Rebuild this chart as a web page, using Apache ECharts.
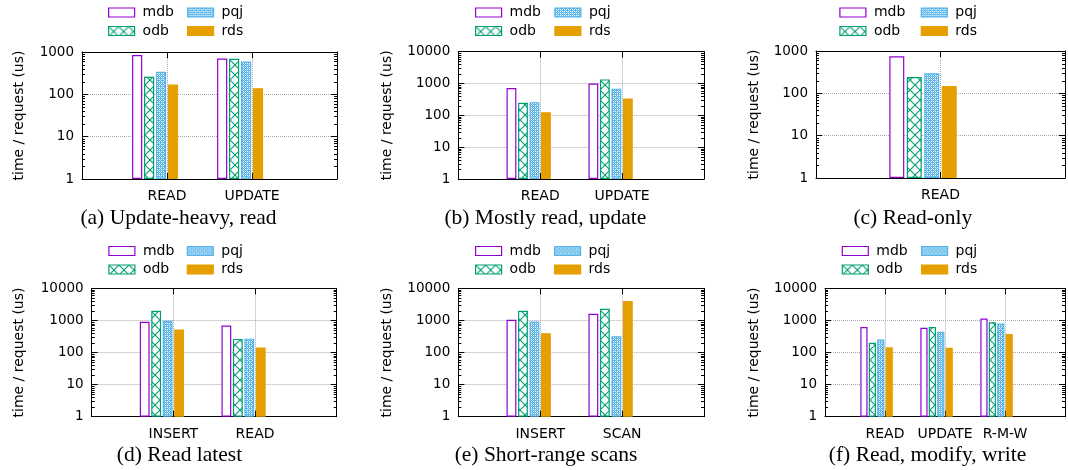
<!DOCTYPE html>
<html><head><meta charset="utf-8">
<script src="https://cdn.jsdelivr.net/npm/echarts@6/dist/echarts.min.js"></script>
<style>html,body{margin:0;padding:0;background:#fff}#c{width:1068px;height:470px}</style>
</head><body><div id="c"></div>
<script>
// ---------- data ----------
const seriesNames = ['mdb', 'odb', 'pqj', 'rds'];

// (a) Update-heavy, read
const catsA = ['READ', 'UPDATE'];
const mdbA = [850, 700];
const odbA = [260, 690];
const pqjA = [340, 600];
const rdsA = [170, 140];
// (b) Mostly read, update
const catsB = ['READ', 'UPDATE'];
const mdbB = [720, 1000];
const odbB = [250, 1350];
const pqjB = [260, 690];
const rdsB = [125, 340];
// (c) Read-only
const catsC = ['READ'];
const mdbC = [750];
const odbC = [242];
const pqjC = [300];
const rdsC = [150];
// (d) Read latest
const catsD = ['INSERT', 'READ'];
const mdbD = [900, 690];
const odbD = [2000, 265];
const pqjD = [980, 270];
const rdsD = [520, 143];
// (e) Short-range scans
const catsE = ['INSERT', 'SCAN'];
const mdbE = [1050, 1600];
const odbE = [2000, 2300];
const pqjE = [920, 320];
const rdsE = [400, 4000];
// (f) Read, modify, write
const catsF = ['READ', 'UPDATE', 'R-M-W'];
const mdbF = [620, 590, 1150];
const odbF = [200, 620, 870];
const pqjF = [255, 440, 800];
const rdsF = [145, 140, 380];

const captions = ['(a) Update-heavy, read', '(b) Mostly read, update', '(c) Read-only',
                  '(d) Read latest', '(e) Short-range scans', '(f) Read, modify, write'];
const yTitle = 'time / request (us)';

// ---------- styles / layout ----------
const SANS = 'DejaVu Sans';
const SERIF = 'Liberation Serif';
const colors = { mdb: '#9400d3', odb: '#009e73', pqj: '#56b4e9', rds: '#e69f00' };

function hatchCanvas() {
  const c = document.createElement('canvas'); c.width = 10; c.height = 10;
  const g = c.getContext('2d');
  g.fillStyle = '#fff'; g.fillRect(0, 0, 10, 10);
  g.strokeStyle = colors.odb; g.lineWidth = 1.1;
  g.beginPath();
  g.moveTo(-1, -1); g.lineTo(11, 11);
  g.moveTo(11, -1); g.lineTo(-1, 11);
  g.stroke();
  return c;
}
function dotCanvas() {
  const c = document.createElement('canvas'); c.width = 4; c.height = 4;
  const g = c.getContext('2d');
  g.fillStyle = colors.pqj; g.fillRect(0, 0, 4, 4);
  g.fillStyle = '#ffffff';
  g.fillRect(1, 1, 1, 1); g.fillRect(3, 3, 1, 1);
  g.fillRect(1, 3, 1, 1); g.fillRect(3, 1, 1, 1);
  g.globalAlpha = 0.5;
  g.fillRect(0, 0, 1, 1); g.fillRect(2, 2, 1, 1);
  return c;
}
const fills = {
  mdb: '#ffffff',
  odb: { image: hatchCanvas(), repeat: 'repeat' },
  pqj: { image: dotCanvas(), repeat: 'repeat' },
  rds: colors.rds
};

const panels = [
  { cats: catsA, vals: { mdb: mdbA, odb: odbA, pqj: pqjA, rds: rdsA }, yMax: 1000,
    box: [82, 52, 255, 127], nameGap: 56, cap: [178.5, 218], leg: [108, 187, 5.5] },
  { cats: catsB, vals: { mdb: mdbB, odb: odbB, pqj: pqjB, rds: rdsB }, yMax: 10000,
    box: [458.3, 51.7, 245.7, 127.3], nameGap: 64, cap: [545.3, 218], leg: [475, 554.3, 5.5] },
  { cats: catsC, vals: { mdb: mdbC, odb: odbC, pqj: pqjC, rds: rdsC }, yMax: 1000,
    box: [816, 51, 250, 127], nameGap: 55, cap: [912.8, 218], leg: [839.3, 920.7, 5.5] },
  { cats: catsD, vals: { mdb: mdbD, odb: odbD, pqj: pqjD, rds: rdsD }, yMax: 10000,
    box: [91.7, 288.3, 245, 128.4], nameGap: 65, cap: [179.5, 455], leg: [108.3, 186.7, 244] },
  { cats: catsE, vals: { mdb: mdbE, odb: odbE, pqj: pqjE, rds: rdsE }, yMax: 10000,
    box: [458.3, 288.3, 245.7, 128.4], nameGap: 64, cap: [546, 455], leg: [475, 554, 244] },
  { cats: catsF, vals: { mdb: mdbF, odb: odbF, pqj: pqjF, rds: rdsF }, yMax: 10000,
    box: [825, 288.3, 242.5, 128.4], nameGap: 64, cap: [927.5, 455], leg: [841.7, 921, 244] }
];

const grid = [], xAxis = [], yAxis = [], series = [], legend = [], graphic = [];
const gridLine = { type: 'dotted', color: '#a8a8a8', width: 1 };
const blackLine = { color: '#000', width: 1 };

panels.forEach((p, i) => {
  const [l, t, w, h] = p.box;
  grid.push({ left: l, top: t, width: w, height: h, containLabel: false });
  const catData = [''].concat(p.cats, ['']);
  xAxis.push({
    type: 'category', gridIndex: i, position: 'bottom', data: catData, boundaryGap: false,
    axisLine: { show: true, onZero: false, lineStyle: blackLine },
    axisTick: { show: true, inside: true, length: 6, lineStyle: blackLine },
    axisLabel: { show: true, interval: 0, fontFamily: SANS, fontSize: 14, color: '#000', margin: 10.5 },
    splitLine: { show: true, interval: 0, lineStyle: gridLine }
  });
  xAxis.push({
    type: 'category', gridIndex: i, position: 'top', data: catData, boundaryGap: false,
    axisLine: { show: true, onZero: false, lineStyle: blackLine },
    axisTick: { show: true, inside: true, length: 6, interval: 0, lineStyle: blackLine },
    axisLabel: { show: false }, splitLine: { show: false }
  });
  const fmt = v => String(Math.round(v));
  yAxis.push({
    type: 'log', logBase: 10, gridIndex: i, position: 'left', min: 1, max: p.yMax,
    axisLine: { show: true, lineStyle: blackLine },
    axisTick: { show: true, inside: true, length: 6, lineStyle: blackLine },
    axisLabel: { show: true, formatter: fmt, fontFamily: SANS, fontSize: 13.5, color: '#000', margin: 8 },
    splitLine: { show: true, lineStyle: gridLine },
    name: yTitle, nameLocation: 'middle', nameGap: p.nameGap, nameRotate: 90,
    nameTextStyle: { fontFamily: SANS, fontSize: 14, color: '#000' }
  });
  yAxis.push({
    type: 'log', logBase: 10, gridIndex: i, position: 'right', min: 1, max: p.yMax,
    axisLine: { show: true, lineStyle: blackLine },
    axisTick: { show: true, inside: true, length: 6, lineStyle: blackLine },
    axisLabel: { show: false }, splitLine: { show: false }
  });

  seriesNames.forEach(n => {
    series.push({
      type: 'bar', name: n, xAxisIndex: 2 * i, yAxisIndex: 2 * i,
      data: ['-'].concat(p.vals[n], ['-']),
      barWidth: '12%', barGap: '17%',
      itemStyle: { color: fills[n], borderColor: colors[n], borderWidth: 1.2 },
      emphasis: { disabled: true }, silent: true, animation: false
    });
  });
  // two empty slots so the cluster sits like gnuplot's (tick at 4th bar's left edge)
  ['pad1', 'pad2'].forEach(n => {
    series.push({
      type: 'bar', name: n, xAxisIndex: 2 * i, yAxisIndex: 2 * i,
      data: catData.map(() => '-'), barWidth: '12%', barGap: '17%', silent: true, animation: false
    });
  });
  // minor log ticks (2..9 × 10^k) on left and right borders
  const minor = [];
  for (let e = 1; e < p.yMax; e *= 10) for (let m = 2; m <= 9; m++) minor.push([0, m * e]);
  series.push({
    type: 'custom', name: 'minor', xAxisIndex: 2 * i, yAxisIndex: 2 * i, silent: true, clip: false,
    animation: false, data: minor, encode: { x: 0, y: 1 },
    renderItem: (params, api) => {
      const cs = params.coordSys;
      const y = Math.round(api.coord([0, api.value(1)])[1]) + 0.5;
      return { type: 'group', children: [
        { type: 'line', shape: { x1: cs.x, y1: y, x2: cs.x + 3, y2: y }, style: { stroke: '#000', lineWidth: 1 } },
        { type: 'line', shape: { x1: cs.x + cs.width - 3, y1: y, x2: cs.x + cs.width, y2: y }, style: { stroke: '#000', lineWidth: 1 } }
      ] };
    }
  });

  const legCommon = {
    orient: 'vertical', top: p.leg[2], itemWidth: 26, itemHeight: 9, itemGap: 4.5,
    icon: 'rect', selectedMode: false, padding: 0,
    itemStyle: { borderWidth: 1.2 },
    textStyle: { fontFamily: SANS, fontSize: 14, color: '#000', padding: [0, 0, 0, 3] }
  };
  legend.push(Object.assign({ left: p.leg[0], data: ['mdb', 'odb'] }, legCommon));
  legend.push(Object.assign({ left: p.leg[1], data: ['pqj', 'rds'] }, legCommon));

  graphic.push({
    type: 'text', x: p.cap[0], y: p.cap[1], silent: true,
    style: { text: captions[i], font: '21.5px "' + SERIF + '"', fill: '#000', align: 'center', verticalAlign: 'middle' }
  });
});

const chart = echarts.init(document.getElementById('c'), null, { renderer: 'canvas' });
chart.setOption({ animation: false, backgroundColor: '#fff', grid, xAxis, yAxis, series, legend, graphic });
</script>
</body></html>
